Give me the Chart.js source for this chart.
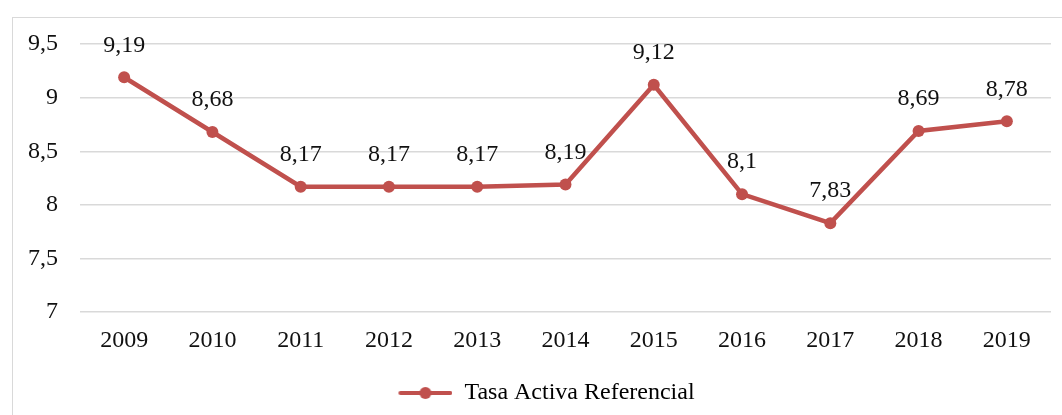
<!DOCTYPE html>
<html>
<head>
<meta charset="utf-8">
<script src="https://cdn.jsdelivr.net/npm/chart.js@4.4.1/dist/chart.umd.min.js"></script>
<style>
  html, body { margin: 0; padding: 0; background: #fff; }
  #wrap { position: relative; width: 1062px; height: 415px; overflow: hidden; }
  #frame { position: absolute; left: 12px; top: 17px; width: 1100px; height: 500px; border: 1px solid #d9d9d9; }
  canvas { position: absolute; left: 0; top: 0; }
</style>
</head>
<body>
<div id="wrap">
  <div id="frame"></div>
  <canvas id="myLineChart" width="1062" height="415"></canvas>
</div>
<script>
// Tasa activa referencial por año
var years = ['2009','2010','2011','2012','2013','2014','2015','2016','2017','2018','2019'];
var tasa = [9.19, 8.68, 8.17, 8.17, 8.17, 8.19, 9.12, 8.1, 7.83, 8.69, 8.78];
var yTicks = [7, 7.5, 8, 8.5, 9, 9.5];

var lineColor = '#c0504d';
var serif = "'Liberation Serif', 'Times New Roman', serif";
var fontSize = 24;

function comma(v) {
    return String(v).replace('.', ',');
}

// legend marker: short line with a dot in the middle (left part kept empty)
var marker = document.createElement('canvas');
marker.width = 96;
marker.height = 14;
var mctx = marker.getContext('2d');
mctx.strokeStyle = lineColor;
mctx.lineWidth = 4;
mctx.lineCap = 'round';
mctx.beginPath();
mctx.moveTo(44, 7);
mctx.lineTo(94, 7);
mctx.stroke();
mctx.fillStyle = lineColor;
mctx.beginPath();
mctx.arc(69, 7, 6, 0, Math.PI * 2);
mctx.fill();

// value labels above each point
var pointLabels = {
    id: 'pointLabels',
    afterDatasetsDraw: function (chart) {
        var ctx = chart.ctx;
        var meta = chart.getDatasetMeta(0);
        ctx.save();
        ctx.font = fontSize + 'px ' + serif;
        ctx.fillStyle = '#111';
        ctx.textAlign = 'center';
        ctx.textBaseline = 'middle';
        meta.data.forEach(function (pt, i) {
            ctx.fillText(comma(tasa[i]), pt.x, pt.y - 32);
        });
        ctx.restore();
    }
};

var ctx = document.getElementById('myLineChart').getContext('2d');
var myLineChart = new Chart(ctx, {
    type: 'line',
    data: {
        labels: years,
        datasets: [{
            label: 'Tasa Activa Referencial',
            data: tasa,
            borderColor: lineColor,
            backgroundColor: lineColor,
            borderWidth: 4.5,
            pointRadius: 6,
            pointBackgroundColor: lineColor,
            pointBorderWidth: 0,
            tension: 0
        }]
    },
    options: {
        responsive: false,
        animation: false,
        layout: { padding: { top: 44, right: 11, left: 0, bottom: 0 } },
        plugins: {
            legend: {
                position: 'bottom',
                labels: {
                    usePointStyle: true,
                    pointStyleWidth: 96,
                    font: { family: serif, size: fontSize },
                    color: '#111',
                    padding: 12,
                    generateLabels: function (chart) {
                        return [{
                            text: chart.data.datasets[0].label,
                            pointStyle: marker,
                            fillStyle: lineColor,
                            strokeStyle: lineColor,
                            lineWidth: 0,
                            datasetIndex: 0
                        }];
                    }
                }
            },
            tooltip: { enabled: false }
        },
        scales: {
            x: {
                offset: true,
                grid: { display: false, drawTicks: false },
                border: { display: false },
                ticks: {
                    font: { family: serif, size: fontSize },
                    color: '#111',
                    padding: 14
                }
            },
            y: {
                min: 7,
                max: 9.5,
                afterBuildTicks: function (axis) {
                    axis.ticks = yTicks.map(function (v) { return { value: v }; });
                },
                afterFit: function (axis) { axis.width = 80; },
                grid: { color: '#d9d9d9', lineWidth: 1.5, drawTicks: false },
                border: { display: false },
                ticks: {
                    font: { family: serif, size: fontSize },
                    color: '#111',
                    padding: 22,
                    callback: function (v) { return comma(v); }
                }
            }
        }
    },
    plugins: [pointLabels]
});
</script>
</body>
</html>
